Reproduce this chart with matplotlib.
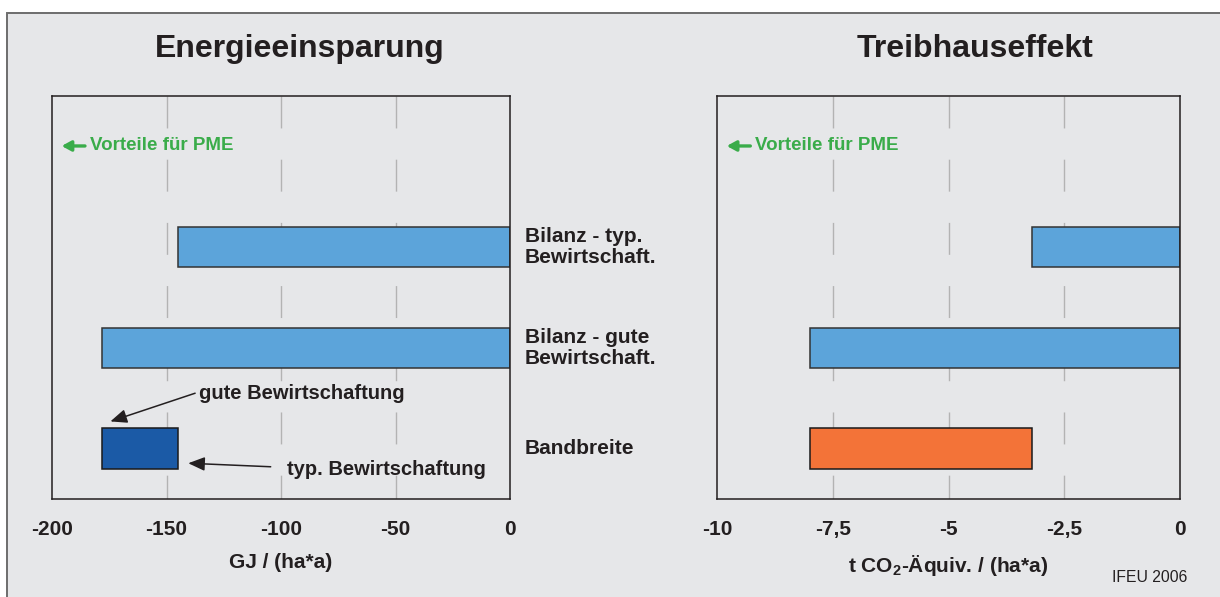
import matplotlib

matplotlib.use("Agg")
import matplotlib.pyplot as plt
from matplotlib.patches import Rectangle

# data
categories = ["Bandbreite", "Bilanz - gute\nBewirtschaft.", "Bilanz - typ.\nBewirtschaft."]
energy_typ = -145
energy_gut = -178
ghg_typ = -3.2
ghg_gut = -8.0
energy_ticks = [-200, -150, -100, -50, 0]
energy_ticklabels = ["-200", "-150", "-100", "-50", "0"]
ghg_ticks = [-10, -7.5, -5, -2.5, 0]
ghg_ticklabels = ["-10", "-7,5", "-5", "-2,5", "0"]

BG = "#e6e7e9"
INK = "#231f20"
LIGHT_BLUE = "#5ca4da"
DARK_BLUE = "#1b5aa6"
ORANGE = "#f37338"
GREEN = "#3aac4a"
GRID = "#b3b3b3"

plt.rcParams["font.family"] = ["Liberation Sans", "DejaVu Sans"]
plt.rcParams["mathtext.fontset"] = "custom"
plt.rcParams["mathtext.rm"] = "Liberation Sans:bold"
plt.rcParams["mathtext.bf"] = "Liberation Sans:bold"

fig = plt.figure(figsize=(12.2, 5.97), dpi=100)
fig.patch.set_facecolor("white")
fig.patches.append(Rectangle((7 / 1220, -0.01), 1.01, 1 - 13 / 597 + 0.01, transform=fig.transFigure,
                             facecolor=BG, edgecolor="#6d6d6d", linewidth=1.4, zorder=-10))

ax1 = fig.add_axes([52 / 1220, 1 - 499 / 597, 458 / 1220, 403 / 597])
ax2 = fig.add_axes([717 / 1220, 1 - 499 / 597, 463 / 1220, 403 / 597])

ypos = [0.5, 1.5, 2.5]
h = 0.4


def style_axis(ax, ticks, ticklabels, xlabel):
    ax.set_facecolor(BG)
    ax.set_xlim(ticks[0], ticks[-1])
    ax.set_ylim(0, 4)
    ax.set_yticks([])
    ax.set_xticks(ticks)
    ax.set_xticklabels(ticklabels, fontsize=15, fontweight="bold", color=INK)
    ax.tick_params(axis="x", which="major", length=0, pad=15)
    ax.set_xticks([ticks[0], ticks[-1]], minor=True)
    ax.tick_params(axis="x", which="minor", length=6.5, width=1.1, color=INK, direction="out")
    for s in ax.spines.values():
        s.set_color(INK)
        s.set_linewidth(1.1)
    ax.vlines(ticks[1:-1], 1, 0, transform=ax.get_xaxis_transform(), colors=GRID,
              linewidth=1.0, linestyles=(0, (23, 22.5)), zorder=0)
    ax.set_xlabel(xlabel, fontsize=15, fontweight="bold", color=INK, labelpad=10)
    ax.annotate("", xy=(0.021, 0.876), xytext=(0.072, 0.876), xycoords="axes fraction",
                arrowprops=dict(arrowstyle="-|>,head_length=0.55,head_width=0.3", color=GREEN, lw=2.4,
                                shrinkA=0, shrinkB=0))
    ax.text(0.083, 0.876, "Vorteile für PME", transform=ax.transAxes, fontsize=13.5, fontweight="bold",
            color=GREEN, va="center", ha="left")


style_axis(ax1, energy_ticks, energy_ticklabels, "GJ / (ha*a)")
style_axis(ax2, ghg_ticks, ghg_ticklabels, r"t CO$_{2}$-Äquiv. / (ha*a)")

# energy bars
ax1.barh(ypos[2], energy_typ, height=h, color=LIGHT_BLUE, edgecolor="#333333", linewidth=1.1, zorder=2)
ax1.barh(ypos[1], energy_gut, height=h, color=LIGHT_BLUE, edgecolor="#333333", linewidth=1.1, zorder=2)
ax1.barh(ypos[0], energy_typ - energy_gut, left=energy_gut, height=h, color=DARK_BLUE,
         edgecolor="#1a1a1a", linewidth=1.1, zorder=2)

# greenhouse bars
ax2.barh(ypos[2], ghg_typ, height=h, color=LIGHT_BLUE, edgecolor="#333333", linewidth=1.1, zorder=2)
ax2.barh(ypos[1], ghg_gut, height=h, color=LIGHT_BLUE, edgecolor="#333333", linewidth=1.1, zorder=2)
ax2.barh(ypos[0], ghg_typ - ghg_gut, left=ghg_gut, height=h, color=ORANGE,
         edgecolor="#1a1a1a", linewidth=1.1, zorder=2)

# category labels between the panels
for y, lab in zip(ypos, categories):
    ax1.text(1.033, y / 4, lab, transform=ax1.transAxes, fontsize=15, fontweight="bold", color=INK,
             va="center", ha="left", linespacing=1.15)

# range annotations
arrow_kw = dict(arrowstyle="-|>,head_length=1.0,head_width=0.42", color=INK, lw=1.1,
                shrinkA=0, shrinkB=0)
ax1.annotate("", xy=(energy_gut + 3.5, ypos[0] + 0.27), xytext=(-137.5, 1.05), arrowprops=arrow_kw)
ax1.text(-136, 1.05, "gute Bewirtschaftung", fontsize=14.5, fontweight="bold", color=INK,
         va="center", ha="left")
ax1.annotate("", xy=(energy_typ + 4.5, ypos[0] - 0.145), xytext=(-104.5, ypos[0] - 0.18),
             arrowprops=arrow_kw)
ax1.text(-97.5, 0.29, "typ. Bewirtschaftung", fontsize=14.5, fontweight="bold", color=INK,
         va="center", ha="left")

# titles and source
fig.text(300 / 1220, 1 - 57 / 597, "Energieeinsparung", fontsize=23, fontweight="bold", color=INK,
         ha="center", va="baseline")
fig.text(975 / 1220, 1 - 57 / 597, "Treibhauseffekt", fontsize=23, fontweight="bold", color=INK,
         ha="center", va="baseline")
fig.text(1187 / 1220, 1 - 577 / 597, "IFEU 2006", fontsize=11.3, color=INK, ha="right", va="center")

fig.savefig("out.png", dpi=100, facecolor=fig.get_facecolor())
